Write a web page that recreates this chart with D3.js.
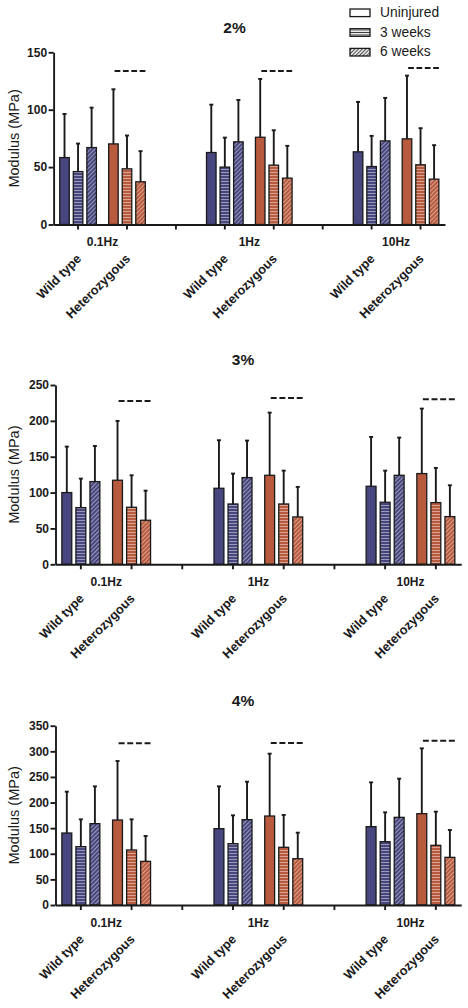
<!DOCTYPE html>
<html><head><meta charset="utf-8">
<script src="https://cdn.jsdelivr.net/npm/d3@7"></script>
<style>
body{margin:0;background:#fff;}
svg{display:block;font-family:"Liberation Sans",Arial,Helvetica,sans-serif;}
</style>
</head><body>
<svg id="chart" width="468" height="1008"></svg>
<script>
// ---------------- DATA ----------------
const frequencies = ["0.1Hz", "1Hz", "10Hz"];
const genotypes = ["Wild type", "Heterozygous"];
const seriesNames = ["Uninjured", "3 weeks", "6 weeks"];
const strainTitles = ["2%", "3%", "4%"];
const yTicks2 = [0, 50, 100, 150];
const yTicks3 = [0, 50, 100, 150, 200, 250];
const yTicks4 = [0, 50, 100, 150, 200, 250, 300, 350];
const yLabel = "Modulus (MPa)";

// rows: WT 0.1Hz, Het 0.1Hz, WT 1Hz, Het 1Hz, WT 10Hz, Het 10Hz ; cols: Uninjured, 3 weeks, 6 weeks
const mean2 = [[58.3, 46.1, 67.0], [70.2, 48.5, 37.2], [62.7, 50.0, 72.0], [76.0, 51.7, 40.4], [63.3, 50.5, 72.8], [74.6, 52.0, 39.5]];
const sd2   = [[38.0, 24.4, 34.8], [47.6, 29.0, 26.7], [41.7, 25.7, 36.5], [50.8, 30.4, 28.1], [43.5, 26.7, 37.5], [55.1, 31.9, 29.6]];
const sig2  = [133.8, 133.8, 136.4];

const mean3 = [[100.0, 79.0, 115.3], [117.2, 79.5, 61.4], [106.0, 84.1, 120.9], [124.1, 84.1, 66.0], [108.8, 86.5, 124.1], [126.5, 86.0, 66.5]];
const sd3   = [[64.1, 40.5, 49.7], [82.7, 44.6, 41.3], [67.0, 42.4, 51.6], [87.4, 46.5, 41.9], [68.8, 44.1, 52.6], [90.6, 48.4, 43.7]];
const sig3  = [227.8, 232.0, 230.1];

const mean4 = [[140.5, 113.9, 158.8], [165.9, 107.4, 85.2], [149.0, 119.7, 166.6], [173.7, 112.6, 90.4], [152.9, 123.6, 171.1], [178.3, 116.5, 93.0]];
const sd4   = [[80.7, 53.3, 72.8], [115.2, 59.8, 49.5], [82.6, 55.3, 74.1], [121.7, 63.1, 50.8], [86.5, 57.3, 75.5], [127.5, 65.7, 53.4]];
const sig4  = [315.6, 316.2, 320.8];

// ---------------- STYLE / LAYOUT ----------------
const colors = {"Wild type": "#47467e", "Heterozygous": "#b85a3d"};
const panels = [
  {title: strainTitles[0], mean: mean2, sd: sd2, sig: sig2, ticks: yTicks2, x0: 53.6, x1: 445, yZero: 224.5, yTop: 52.3, tx: 234.5, ty: 32.5},
  {title: strainTitles[1], mean: mean3, sd: sd3, sig: sig3, ticks: yTicks3, x0: 55.5, x1: 461.2, yZero: 564.3, yTop: 385, tx: 243, ty: 364.5},
  {title: strainTitles[2], mean: mean4, sd: sd4, sig: sig4, ticks: yTicks4, x0: 55.5, x1: 461.2, yZero: 905, yTop: 725.7, tx: 243, ty: 706}
];

const svg = d3.select("#chart");
const defs = svg.append("defs");

function hPattern(id, base, line, period, lw) {
  const p = defs.append("pattern").attr("id", id).attr("patternUnits", "userSpaceOnUse")
    .attr("width", 6).attr("height", period);
  p.append("rect").attr("width", 6).attr("height", period).attr("fill", base);
  p.append("line").attr("x1", 0).attr("x2", 6).attr("y1", period / 2).attr("y2", period / 2)
    .attr("stroke", line).attr("stroke-width", lw);
}
function dPattern(id, base, line, period, lw) {
  const p = defs.append("pattern").attr("id", id).attr("patternUnits", "userSpaceOnUse")
    .attr("width", period).attr("height", 6).attr("patternTransform", "rotate(45)");
  p.append("rect").attr("width", period).attr("height", 6).attr("fill", base);
  p.append("line").attr("y1", 0).attr("y2", 6).attr("x1", period / 2).attr("x2", period / 2)
    .attr("stroke", line).attr("stroke-width", lw);
}
genotypes.forEach((g, gi) => {
  hPattern("h" + gi, colors[g], "rgba(255,255,255,0.45)", 3, 1);
  dPattern("d" + gi, colors[g], "rgba(255,255,255,0.45)", 3, 1);
});
hPattern("hL", "#fff", "#333", 2.5, 1);
dPattern("dL", "#fff", "#444", 2.6, 1.1);

function fillFor(gi, si) {
  if (si === 0) return colors[genotypes[gi]];
  return `url(#${si === 1 ? "h" : "d"}${gi})`;
}

// category keys with gaps between frequency groups
const keys = [];
frequencies.forEach((f, fi) => {
  if (fi > 0) keys.push("gap" + fi);
  genotypes.forEach(g => keys.push(f + "|" + g));
});

panels.forEach(P => {
  const g = svg.append("g");
  const x = d3.scaleBand().domain(keys).range([P.x0, P.x1]).padding(0);
  const bw = x.bandwidth();
  const inner = d3.scaleBand().domain(seriesNames).range([-0.3745 * bw, 0.3745 * bw]).paddingInner(0.296);
  const yMax = P.ticks[P.ticks.length - 1];
  const y = d3.scaleLinear().domain([0, yMax]).range([P.yZero, P.yTop]);

  // bars + error bars
  frequencies.forEach((f, fi) => {
    genotypes.forEach((gn, gi) => {
      const row = fi * 2 + gi;
      const cx = x(f + "|" + gn) + bw / 2;
      seriesNames.forEach((s, si) => {
        const m = P.mean[row][si], e = P.sd[row][si];
        const bx = cx + inner(s);
        const bc = bx + inner.bandwidth() / 2;
        g.append("line").attr("x1", bc).attr("x2", bc).attr("y1", y(m)).attr("y2", y(m + e))
          .attr("stroke", "#1a1a1a").attr("stroke-width", 1.9);
        g.append("line").attr("x1", bc - 2).attr("x2", bc + 2).attr("y1", y(m + e)).attr("y2", y(m + e))
          .attr("stroke", "#1a1a1a").attr("stroke-width", 1.9);
        g.append("rect").attr("x", bx).attr("y", y(m)).attr("width", inner.bandwidth())
          .attr("height", y(0) - y(m)).attr("fill", fillFor(gi, si))
          .attr("stroke", "#1a1a1a").attr("stroke-width", 1.3);
      });
    });
    // significance dashed line above heterozygous group
    const hc = x(f + "|" + genotypes[1]) + bw / 2 + 3;
    const w = 0.63 * bw, d = w / 5.35;
    g.append("line").attr("x1", hc - w / 2).attr("x2", hc + w / 2)
      .attr("y1", y(P.sig[fi])).attr("y2", y(P.sig[fi]))
      .attr("stroke", "#1a1a1a").attr("stroke-width", 2)
      .attr("stroke-dasharray", `${d},${d * 0.45}`);
  });

  // axes
  const xa = g.append("g").attr("transform", `translate(0,${P.yZero})`)
    .call(d3.axisBottom(x).tickSize(5).tickSizeOuter(0).tickFormat(() => ""));
  const ya = g.append("g").attr("transform", `translate(${P.x0},0)`)
    .call(d3.axisLeft(y).tickValues(P.ticks).tickSize(5).tickSizeOuter(0).tickPadding(1.5));
  [xa, ya].forEach(a => {
    a.selectAll(".domain").attr("stroke", "#1a1a1a").attr("stroke-width", 1.9);
    a.selectAll(".tick line").attr("stroke", "#1a1a1a").attr("stroke-width", 1.9);
  });
  ya.selectAll(".tick text").attr("font-size", 12).attr("font-weight", "bold").attr("fill", "#1a1a1a")
    .attr("font-family", "Liberation Sans, Arial, sans-serif");

  // frequency group labels
  frequencies.forEach(f => {
    const c = (x(f + "|" + genotypes[0]) + x(f + "|" + genotypes[1]) + bw) / 2;
    g.append("text").attr("x", c).attr("y", P.yZero + 21.5).attr("text-anchor", "middle")
      .attr("font-size", 12).attr("font-weight", "bold").attr("fill", "#1a1a1a").text(f);
  });
  // rotated genotype labels
  keys.filter(k => !k.startsWith("gap")).forEach(k => {
    const tx = x(k) + bw / 2 + 4, ty = P.yZero + 35;
    g.append("text").attr("transform", `translate(${tx},${ty}) rotate(-45)`)
      .attr("text-anchor", "end").attr("font-size", 12.8).attr("font-weight", "bold")
      .attr("fill", "#1a1a1a").text(k.split("|")[1]);
  });

  // y label
  g.append("text").attr("transform", `translate(14,${(P.yZero + P.yTop) / 2}) rotate(-90)`)
    .attr("text-anchor", "middle").attr("dominant-baseline", "central")
    .attr("font-size", 14.5).attr("fill", "#1a1a1a").text(yLabel);
  // title
  g.append("text").attr("x", P.tx).attr("y", P.ty).attr("text-anchor", "middle")
    .attr("font-size", 15.5).attr("font-weight", "bold").attr("fill", "#1a1a1a").text(P.title);
});

// legend
const legendFills = ["#fff", "url(#hL)", "url(#dL)"];
const lg = svg.append("g").attr("transform", "translate(350,9)");
seriesNames.forEach((s, i) => {
  const row = lg.append("g").attr("transform", `translate(0,${i * 19.7})`);
  row.append("rect").attr("width", 20).attr("height", 7.6).attr("fill", legendFills[i])
    .attr("stroke", "#1a1a1a").attr("stroke-width", 1.3);
  row.append("text").attr("x", 30).attr("y", 8).attr("font-size", 13.8).attr("fill", "#1a1a1a").text(s);
});
</script>
</body></html>
